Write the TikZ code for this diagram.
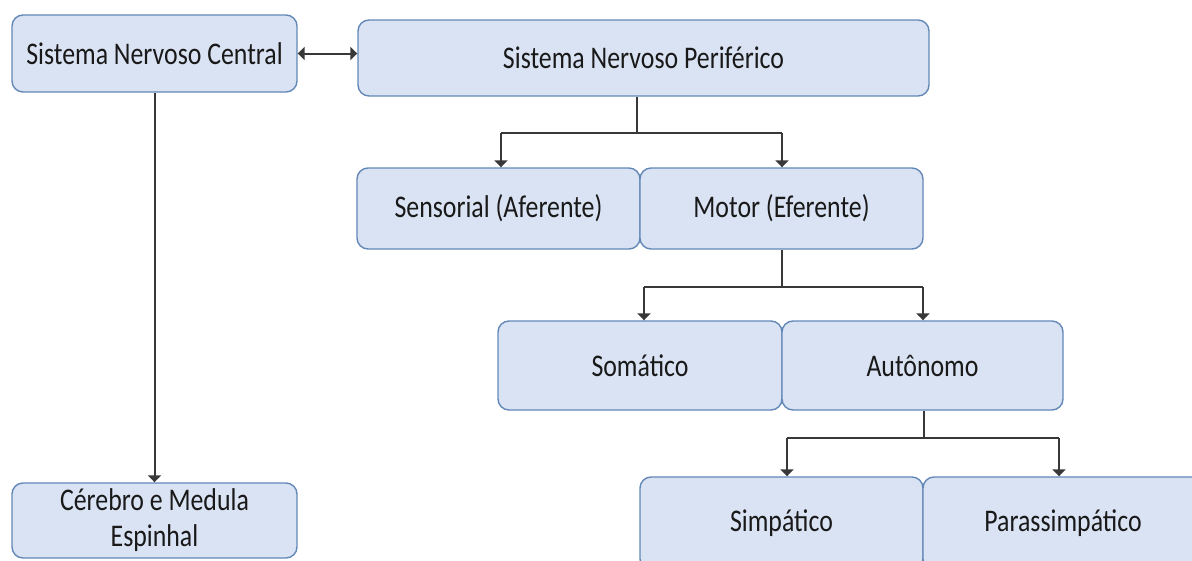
\documentclass[tikz,border=0pt]{standalone}
\usepackage{fontspec}
\setmainfont[FakeStretch=0.82]{Carlito}
\usetikzlibrary{arrows.meta}
\definecolor{boxfill}{HTML}{DAE3F3}
\definecolor{boxline}{HTML}{6388B8}
\definecolor{connline}{HTML}{383838}
\tikzset{
  box/.style={draw=boxline, fill=boxfill, line width=1.4pt, rounded corners=11pt,
    inner sep=0pt, align=center, font=\fontsize{31.5}{36}\selectfont, text=black!90},
  conn/.style={draw=connline, line width=2pt},
  tip/.style={-{Triangle[width=13pt,length=7pt]}},
  dtip/.style={{Triangle[width=13pt,length=7pt]}-{Triangle[width=13pt,length=7pt]}}
}
\begin{document}
\begin{tikzpicture}[x=1pt,y=-1pt]
\useasboundingbox (0,0) rectangle (1192,560);
\clip (0,0) rectangle (1192,560);
\node[box, minimum width=285pt, minimum height=77pt] (snc) at (154.5,53.5) {Sistema Nervoso Central};
\node[box, minimum width=571pt, minimum height=76pt] (snp) at (643.5,58) {Sistema Nervoso Periférico};
\node[box, minimum width=283pt, minimum height=81pt] (sens) at (498.5,208.5) {Sensorial (Aferente)};
\node[box, minimum width=283pt, minimum height=81pt] (mot) at (781.5,208.5) {Motor (Eferente)};
\node[box, minimum width=284pt, minimum height=89pt] (som) at (640,365.5) {Somático};
\node[box, minimum width=281pt, minimum height=89pt] (aut) at (922.5,365.5) {Autônomo};
\node[box, minimum width=283pt, minimum height=93pt] (simp) at (781.5,523.5) {Simpático};
\node[box, minimum width=280pt, minimum height=93pt] (para) at (1063,523.5) {Parassimpático};
\node[box, minimum width=285pt, minimum height=75pt] (cer) at (154.5,520.5) {Cérebro e Medula\\Espinhal};
% connectors
\coordinate (f1) at (637,133);
\coordinate (a1) at (501,133);
\coordinate (b1) at (782,133);
\draw[conn] (f1 |- snp.south) -- (f1);
\draw[conn] (a1) -- (b1);
\draw[conn, tip] (a1) -- (a1 |- sens.north);
\draw[conn, tip] (b1) -- (b1 |- mot.north);
\coordinate (f2) at (782,287);
\coordinate (a2) at (644,287);
\coordinate (b2) at (923,287);
\draw[conn] (f2 |- mot.south) -- (f2);
\draw[conn] (a2) -- (b2);
\draw[conn, tip] (a2) -- (a2 |- som.north);
\draw[conn, tip] (b2) -- (b2 |- aut.north);
\coordinate (f3) at (924,438);
\coordinate (a3) at (787,438);
\coordinate (b3) at (1059,438);
\draw[conn] (f3 |- aut.south) -- (f3);
\draw[conn] (a3) -- (b3);
\draw[conn, tip] (a3) -- (a3 |- simp.north);
\draw[conn, tip] (b3) -- (b3 |- para.north);
\draw[conn, tip] (snc.south) -- (cer.north);
\draw[conn, dtip] (snc.east) -- (snc.east -| snp.west);
\end{tikzpicture}
\end{document}
